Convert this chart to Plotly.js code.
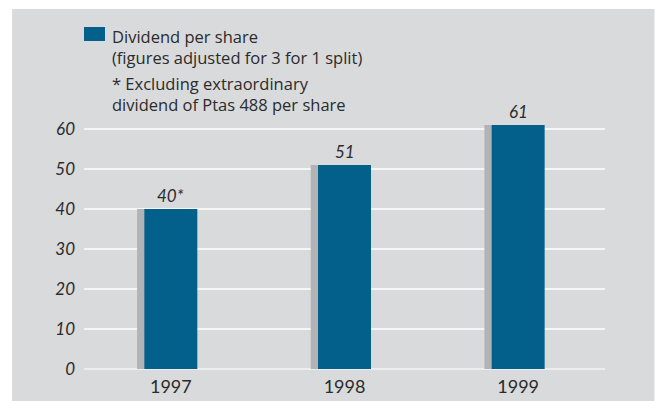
<!DOCTYPE html>
<html>
<head>
<meta charset="utf-8">
<script src="https://cdn.plot.ly/plotly-3.0.1.min.js"></script>
<style>html,body{margin:0;padding:0;background:#fff;}#chart{width:658px;height:401px;}</style>
</head>
<body>
<div id="chart"></div>
<script>
const years = ['1997', '1998', '1999'];
const dividend = [40, 51, 61];
const valueLabels = ['40*', '51', '61'];
const legendTitle = 'Dividend per share<br>(figures adjusted for 3 for 1 split)';
const noteText = '* Excluding extraordinary<br>dividend of Ptas 488 per share';

const FONT = 'Lato, "Open Sans", "DejaVu Sans", sans-serif';
const TFONT = '"Open Sans", Lato, sans-serif';
const BLUE = '#02608a';
const SHADOW = '#b2b3b5';
const PANEL = '#d9dadc';
const INK = '#2b2b2b';
const W = 0.305;
const SHIFT = 0.042;

const traces = [
  {
    type: 'bar', x: years, y: dividend,
    width: W, offset: -W / 2 - SHIFT,
    marker: {color: SHADOW, line: {width: 0}},
    hoverinfo: 'skip', showlegend: false
  },
  {
    type: 'bar', x: years, y: dividend,
    width: W, offset: -W / 2,
    marker: {color: BLUE, line: {width: 0}},
    showlegend: false
  }
];

// plot area: left 84, right 605.5, top 121, bottom 369
const pw = 521.5, ph = 248;
const px = v => (v - 84) / pw;
const py = v => (369 - v) / ph;

const valueAnnotations = years.map((yr, i) => ({
  x: i, y: dividend[i], xref: 'x', yref: 'y',
  xanchor: 'center', yanchor: 'bottom', yshift: 1, showarrow: false,
  text: valueLabels[i],
  font: {family: FONT, size: 17, color: INK, style: 'italic'}
}));

const layout = {
  width: 658, height: 401,
  margin: {l: 84, r: 52.5, t: 121, b: 32, pad: 0},
  paper_bgcolor: '#ffffff',
  plot_bgcolor: 'rgba(0,0,0,0)',
  barmode: 'overlay',
  showlegend: false,
  font: {family: FONT, color: INK},
  xaxis: {
    type: 'category', range: [-0.5, 2.5],
    showgrid: false, zeroline: false, showline: false, ticks: '',
    ticklabelstandoff: 5,
    tickfont: {family: FONT, size: 18, color: INK},
    fixedrange: true
  },
  yaxis: {
    range: [0, 62], dtick: 10, tick0: 0,
    showgrid: true, gridcolor: '#f5f5f5', gridwidth: 1.5,
    zeroline: true, zerolinecolor: '#ededed', zerolinewidth: 2.5,
    showline: false, ticks: '', ticklabelstandoff: 8,
    tickfont: {family: FONT, size: 17, color: INK, style: 'italic'},
    fixedrange: true
  },
  shapes: [
    {type: 'rect', xref: 'paper', yref: 'paper', layer: 'below',
     x0: px(12), x1: px(655), y0: py(401), y1: py(9),
     fillcolor: PANEL, line: {width: 0}},
    {type: 'rect', xref: 'paper', yref: 'paper',
     x0: px(84), x1: px(105), y0: py(41), y1: py(27),
     fillcolor: BLUE, line: {width: 0}}
  ],
  annotations: [
    {xref: 'paper', yref: 'paper', x: px(110), y: py(23), xanchor: 'left', yanchor: 'top',
     align: 'left', showarrow: false, text: legendTitle,
     font: {family: TFONT, size: 16.5, color: INK}},
    {xref: 'paper', yref: 'paper', x: px(110), y: py(70), xanchor: 'left', yanchor: 'top',
     align: 'left', showarrow: false, text: noteText,
     font: {family: TFONT, size: 16.5, color: INK}}
  ].concat(valueAnnotations)
};

Plotly.newPlot('chart', traces, layout, {displayModeBar: false, staticPlot: true});
</script>
</body>
</html>
